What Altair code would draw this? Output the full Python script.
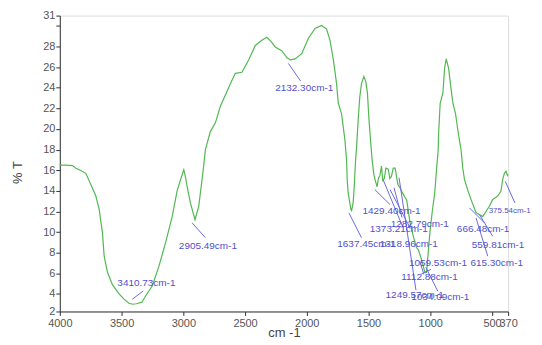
import altair as alt
import pandas as pd

# Spectrum (wavenumber cm-1, %T)
wn = [4000, 3950, 3897, 3870, 3843, 3789, 3748, 3708, 3681, 3668, 3655, 3641, 3614, 3574,
      3520, 3480, 3440, 3410, 3380, 3335, 3305, 3251, 3197, 3143, 3090, 3050, 3022, 2996,
      2980, 2969, 2942, 2905, 2875, 2842, 2821, 2781, 2740, 2700, 2659, 2619, 2579, 2525,
      2471, 2417, 2364, 2324, 2290, 2256, 2203, 2160, 2132, 2095, 2041, 1987, 1933, 1880,
      1840, 1812, 1786, 1759, 1745, 1719, 1705, 1691, 1678, 1673, 1665, 1643, 1637, 1624,
      1616, 1605, 1598, 1584, 1571, 1557, 1538, 1522, 1509, 1498, 1484, 1471, 1457, 1445,
      1431, 1420, 1408, 1395, 1385, 1372, 1360, 1340, 1328, 1315, 1300, 1285, 1275, 1262,
      1245, 1225, 1191, 1165, 1138, 1112, 1097, 1070, 1044, 1030, 1003, 984, 964, 950,
      936, 933, 920, 898, 884, 871, 852, 831, 817, 796, 777, 764, 751, 737, 723, 697, 670,
      630, 603, 576, 549, 522, 495, 455, 428, 414, 400, 387, 375, 370]
pt = [16.5, 16.5, 16.45, 16.2, 16.05, 15.7, 14.6, 13.5, 12.2, 11.05, 10.0, 7.7, 6.1, 4.9,
      4.0, 3.5, 3.1, 3.0, 3.05, 3.2, 3.8, 4.8, 6.7, 9.0, 11.5, 14.0, 15.1, 16.05,
      15.2, 14.4, 12.8, 11.2, 12.5, 15.7, 18.0, 19.75, 20.6, 22.2, 23.3, 24.4, 25.4, 25.5,
      26.7, 28.1, 28.6, 28.9, 28.5, 27.96, 27.6, 26.9, 26.7, 26.8, 27.3, 28.8, 29.75, 30.05,
      29.7, 28.6, 26.8, 24.4, 22.5, 21.5, 20.2, 18.9, 17.0, 15.1, 13.8, 12.2, 12.1, 12.9,
      14.4, 17.0, 18.0, 20.9, 23.1, 24.4, 25.1, 24.6, 23.5, 21.2, 18.9, 17.0, 15.6, 15.0,
      14.4, 15.2, 15.5, 16.4, 15.0, 15.2, 16.2, 16.1, 15.2, 15.4, 16.2, 16.2, 15.5, 14.6,
      14.3, 13.8, 13.1, 11.0, 9.6, 8.5, 8.3, 7.3, 6.1, 6.1, 10.0, 12.0, 13.8, 16.0,
      18.0, 19.5, 22.5, 23.5, 25.9, 26.8, 25.9, 23.8, 22.5, 21.5, 19.9, 18.9, 18.0, 16.2, 15.1, 14.1, 13.15,
      11.9, 11.7, 11.5, 12.0, 12.5, 13.15, 13.5, 13.95, 15.1, 15.7, 15.9, 15.5, 15.6]

# Peak labels (text anchor in data units)
ann_text = ["3410.73cm-1", "2905.49cm-1", "2132.30cm-1", "1637.45cm-1", "1429.40cm-1",
            "1373.21cm-1", "1318.96cm-1", "1282.79cm-1", "1059.53cm-1", "1112.88cm-1",
            "1249.57cm-1", "1034.09cm-1", "666.48cm-1", "559.81cm-1", "615.30cm-1",
            "375.54cm-1"]
ann_wn = [3534, 3036, 2256, 1753, 1549, 1490, 1409, 1320, 1173, 1235, 1362, 1154, 785, 664, 675, 495]
ann_t = [5.10, 8.64, 23.94, 8.80, 12.02, 10.32, 8.80, 10.83, 7.03, 5.64, 3.92, 3.73, 10.32, 8.70, 7.03, 12.02]

# Leader lines
ld_wn1 = [3413, 2929, 2149, 1659, 1449, 1382, 1326, 1294, 1253, 1085, 1076, 1036, 683, 602, 630, 393]
ld_t1 = [3.49, 10.90, 26.36, 11.86, 14.12, 15.08, 14.12, 14.31, 15.27, 7.16, 5.90, 6.58, 12.35, 11.70, 11.38, 14.92]
ld_wn2 = [3324, 2821, 2050, 1557, 1326, 1221, 1165, 1229, 1116, 1052, 995, 939, 562, 495, 535, 315]
ld_t2 = [4.29, 9.45, 24.65, 9.45, 12.67, 10.44, 10.44, 11.41, 4.36, 5.90, 6.39, 4.26, 10.90, 9.60, 7.67, 12.83]

x_ticks = [4000, 3500, 3000, 2500, 2000, 1500, 1000, 500, 370]
y_ticks = [2.3, 4, 6, 8, 10, 12, 14, 16, 18, 20, 22, 24, 26, 28, 30, 31]

spec = pd.DataFrame({"wn": wn, "t": pt})
ann = pd.DataFrame({"label": ann_text, "wn": ann_wn, "t": ann_t})
lead = pd.DataFrame({"wn1": ld_wn1, "t1": ld_t1, "wn2": ld_wn2, "t2": ld_t2})

xscale = alt.Scale(domain=[370, 4000], reverse=True, nice=False, zero=False)
yscale = alt.Scale(domain=[2.3, 31], nice=False, zero=False)

xaxis = alt.Axis(title="cm -1", values=x_ticks, format="d", grid=False, labelOverlap=False,
                 labelFlush=False, tickSize=4, labelPadding=2, labelFont="Liberation Sans",
                 labelFontSize=11, labelColor="#555555", titleFont="Liberation Sans",
                 titleFontSize=13, titleFontWeight="normal", titleColor="#444444",
                 titleX=225, titleY=21, titleBaseline="middle",
                 domainColor="#333333", tickColor="#333333")
yaxis = alt.Axis(title="% T", values=y_ticks, grid=False, labelOverlap=False, labelFlush=False,
                 labelExpr="datum.value == 30 ? '' : (datum.value < 3 ? '2' : datum.label)",
                 tickSize=4, labelPadding=1, labelFont="Liberation Sans", labelFontSize=11,
                 labelColor="#555555", titleFont="Liberation Sans", titleFontSize=13,
                 titleFontWeight="normal", titleColor="#444444", titleX=-42, titleY=157,
                 titleAngle=-90, titleAlign="center", titleBaseline="middle",
                 domainColor="#333333", tickColor="#333333")

line = alt.Chart(spec).mark_line(color="#52b852", strokeWidth=1.2).encode(
    x=alt.X("wn:Q", scale=xscale, axis=xaxis),
    y=alt.Y("t:Q", scale=yscale, axis=yaxis),
)

rules = alt.Chart(lead).mark_rule(color="#6a6ae0", strokeWidth=1).encode(
    x=alt.X("wn1:Q", scale=xscale, axis=xaxis),
    x2="wn2:Q",
    y=alt.Y("t1:Q", scale=yscale, axis=yaxis),
    y2="t2:Q",
)

enc = dict(
    x=alt.X("wn:Q", scale=xscale, axis=xaxis),
    y=alt.Y("t:Q", scale=yscale, axis=yaxis),
    text="label:N",
)

texts = alt.Chart(ann).transform_filter("datum.label != '375.54cm-1'").mark_text(
    align="left", baseline="middle", font="Liberation Sans", fontSize=10, color="#5050cc"
).encode(**enc)

edge_text = alt.Chart(ann).transform_filter("datum.label == '375.54cm-1'").mark_text(
    align="left", baseline="middle", font="Liberation Sans", fontSize=8, color="#5050cc", dx=-4
).encode(**enc)

chart = alt.layer(line, rules, texts, edge_text).properties(
    width=450, height=297,
    autosize=alt.AutoSizeParams(type="none"),
    padding={"left": 52, "top": 7, "right": 26, "bottom": 28},
).configure_view(stroke=None).configure_axis(
    labelOverlap=False, labelFlush=False
).configure(background="white")

chart.save("out.html", embed_options={"renderer": "svg", "actions": False})
